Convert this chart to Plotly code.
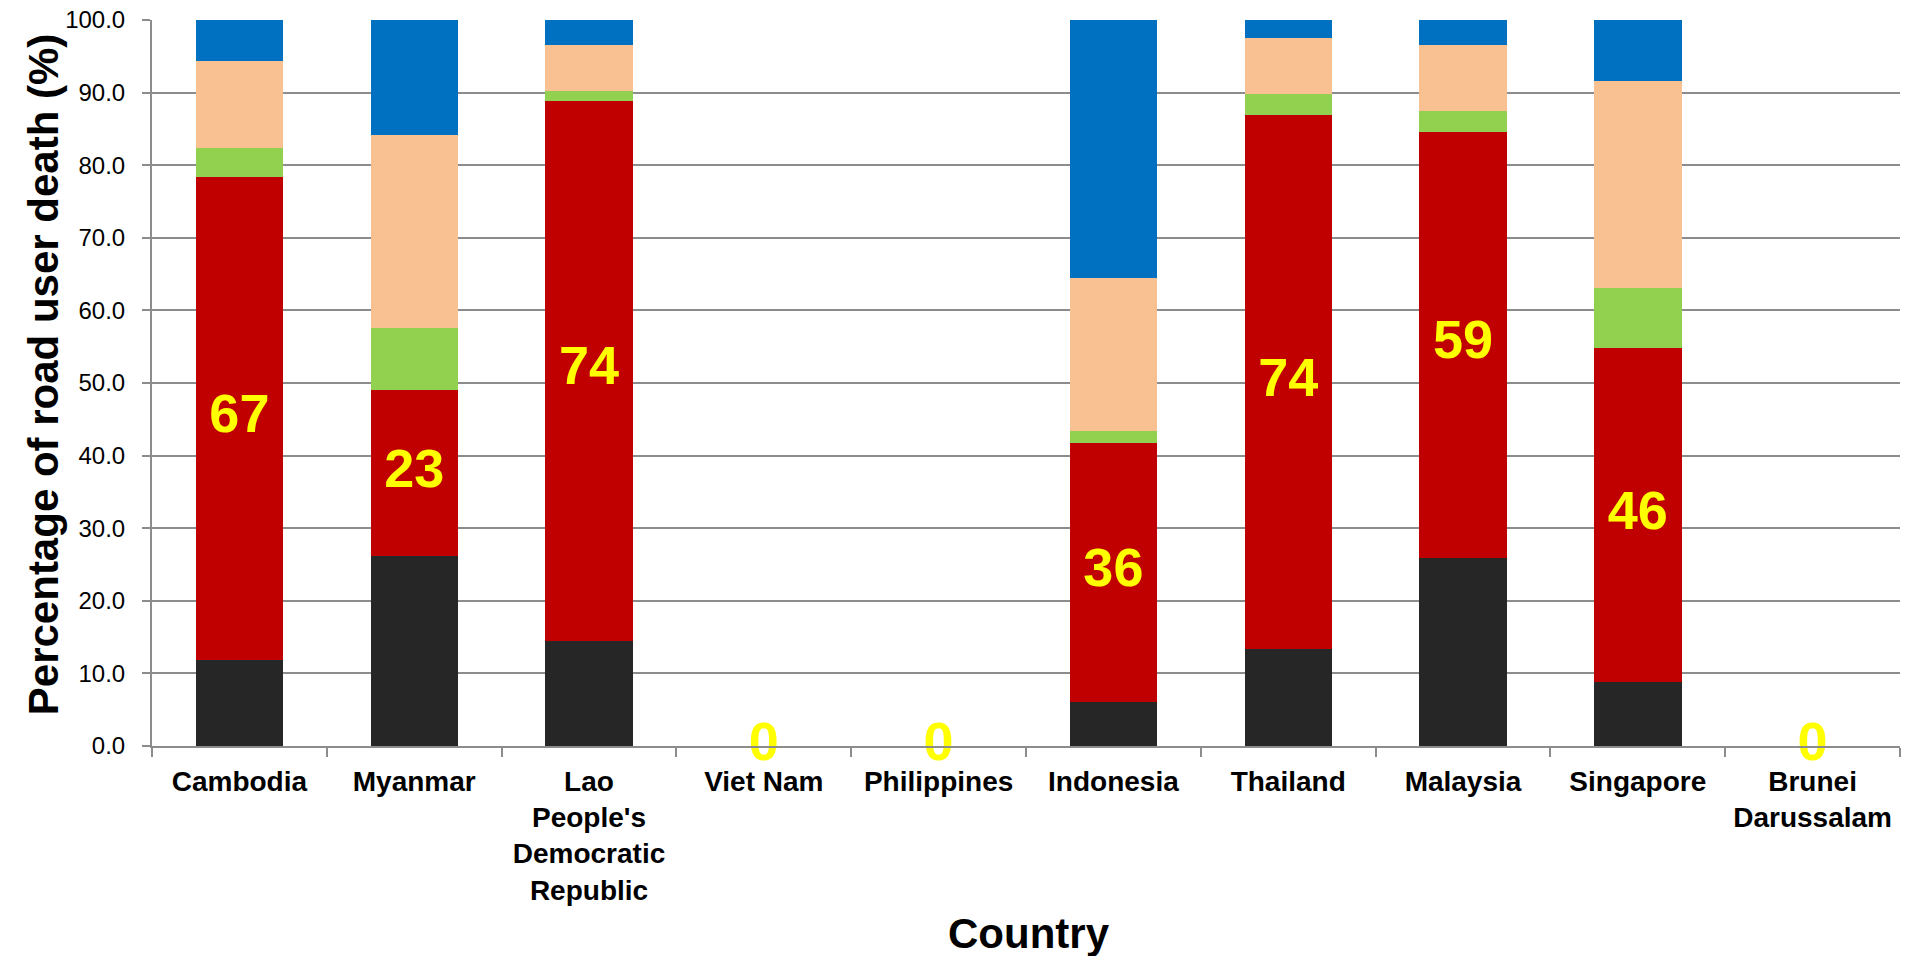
import plotly.graph_objects as go

# Share of road user deaths (%) by road user type, per country
countries = [
    "Cambodia", "Myanmar", "Lao<br>People's<br>Democratic<br>Republic",
    "Viet Nam", "Philippines", "Indonesia", "Thailand", "Malaysia",
    "Singapore", "Brunei<br>Darussalam",
]

four_wheelers = [11.8, 26.2, 14.5, 0, 0, 6.1, 13.3, 25.9, 8.8, 0]
motorized_two_three_wheelers = [66.6, 22.8, 74.4, 0, 0, 35.6, 73.6, 58.7, 46.0, 0]
cyclists = [4.0, 8.6, 1.3, 0, 0, 1.7, 2.9, 2.8, 8.3, 0]
pedestrians = [12.0, 26.5, 6.35, 0, 0, 21.1, 7.7, 9.15, 28.5, 0]
other_users = [5.6, 15.9, 3.45, 0, 0, 35.5, 2.5, 3.45, 8.4, 0]

y_ticks = [0, 10, 20, 30, 40, 50, 60, 70, 80, 90, 100]

FONT = "Liberation Sans, Arial, sans-serif"

series = [
    ("Drivers/passengers of 4-wheeled vehicles", four_wheelers, "#262626"),
    ("Riders of motorized 2- or 3-wheelers", motorized_two_three_wheelers, "#C00000"),
    ("Cyclists", cyclists, "#92D050"),
    ("Pedestrians", pedestrians, "#F9C192"),
    ("Other/unspecified", other_users, "#0070C0"),
]

fig = go.Figure()
for name, vals, color in series:
    fig.add_trace(go.Bar(
        x=countries, y=vals, name=name,
        marker=dict(color=color, line=dict(width=0)),
        hoverinfo="x+y+name",
    ))

# Value labels centred on the motorized 2-/3-wheeler segment
label_y = [b + r / 2 for b, r in zip(four_wheelers, motorized_two_three_wheelers)]
label_text = [f"{round(r):d}" for r in motorized_two_three_wheelers]
fig.add_trace(go.Scatter(
    x=countries, y=label_y, text=label_text, mode="text",
    textposition="middle center",
    textfont=dict(family=FONT, size=54, color="#FFFF00", weight="bold"),
    cliponaxis=False, showlegend=False, hoverinfo="skip",
))

fig.update_layout(
    barmode="stack",
    bargap=0.5,
    width=1905, height=956,
    margin=dict(l=152, r=5, t=20, b=210, autoexpand=False),
    plot_bgcolor="white", paper_bgcolor="white",
    showlegend=False,
    font=dict(family=FONT, color="#000000"),
    annotations=[
        dict(text="<b>Country</b>", xref="paper", yref="paper",
             x=0.502, y=-0.2576, xanchor="center", yanchor="middle",
             showarrow=False, font=dict(family=FONT, size=42, color="#000000")),
        dict(text="<b>Percentage of road user death (%)</b>", xref="paper", yref="paper",
             x=-0.0624, y=0.512, xanchor="center", yanchor="middle", textangle=-90,
             showarrow=False, font=dict(family=FONT, size=42, color="#000000")),
    ],
)

fig.update_xaxes(
    type="category",
    automargin=False,
    tickson="boundaries",
    ticks="outside", ticklen=9, tickwidth=2, tickcolor="#8c8c8c",
    ticklabelstandoff=9,
    showline=True, linecolor="#8c8c8c", linewidth=2,
    tickfont=dict(family=FONT, size=28, color="#000000", weight="bold"),
)

fig.update_yaxes(
    range=[0, 100],
    automargin=False,
    tickvals=y_ticks,
    tickformat=".1f",
    ticks="outside", ticklen=8, tickwidth=2, tickcolor="#8c8c8c",
    ticklabelstandoff=12,
    showline=True, linecolor="#8c8c8c", linewidth=2,
    showgrid=True, gridcolor="#8c8c8c", gridwidth=2,
    zeroline=False,
    tickfont=dict(family=FONT, size=24, color="#000000"),
)

fig.write_html("out.html")
